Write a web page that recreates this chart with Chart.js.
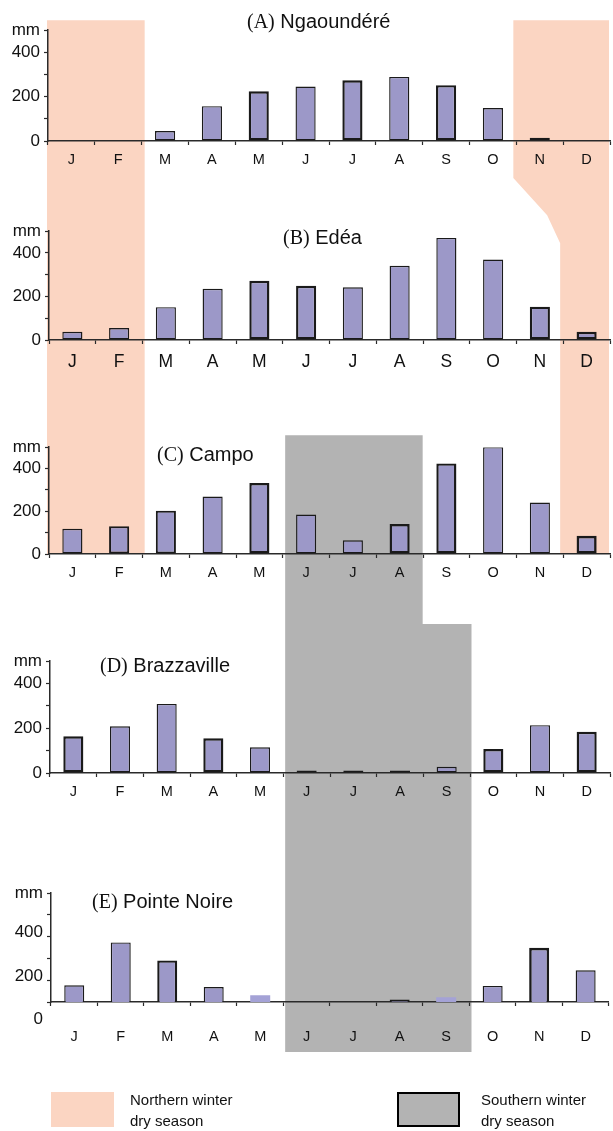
<!DOCTYPE html>
<html>
<head>
<meta charset="utf-8">
<title>Monthly rainfall and dry seasons</title>
<script src="https://cdn.jsdelivr.net/npm/chart.js@4.4.0/dist/chart.umd.min.js"></script>
<style>
  html, body { margin: 0; padding: 0; background: #fff; }
  #page { position: relative; width: 613px; height: 1131px; overflow: hidden;
          font-family: "Liberation Sans", Arial, sans-serif; color: #111; }
  #shade { position: absolute; left: 0; top: 0; }
  .panel { position: absolute; left: 0; width: 613px; }
  .panel canvas { display: block; }
  .title { position: absolute; font-size: 20px; line-height: 20px; white-space: nowrap; color: #111; }
  .title .tag { font-family: "Liberation Serif", "Times New Roman", serif; }
  .swatch { position: absolute; width: 63px; height: 35px; box-sizing: border-box; }
  .swatch.north { background-color: #fbd5c2; }
  .swatch.south { background-color: #b3b3b3; border: 2px solid #000; }
  .legend-text { position: absolute; font-size: 15px; line-height: 21px; color: #111; white-space: nowrap; }
</style>
</head>
<body>
<div id="page">
  <canvas id="shade" width="613" height="1131"></canvas>
  <div class="panel" id="pA"><canvas></canvas></div>
  <div class="panel" id="pB"><canvas></canvas></div>
  <div class="panel" id="pC"><canvas></canvas></div>
  <div class="panel" id="pD"><canvas></canvas></div>
  <div class="panel" id="pE"><canvas></canvas></div>
  <div id="titles"></div>

  <div class="swatch north" style="left:51px;top:1092px;"></div>
  <div class="legend-text" style="left:130px;top:1089px;">Northern winter<br>dry season</div>
  <div class="swatch south" style="left:397px;top:1092px;"></div>
  <div class="legend-text" style="left:481px;top:1089px;">Southern winter<br>dry season</div>
</div>

<script>
// Monthly rainfall (mm) at five stations
const months = ['J', 'F', 'M', 'A', 'M', 'J', 'J', 'A', 'S', 'O', 'N', 'D'];
const ngaoundere  = [0, 0, 45, 157, 224, 246, 274, 289, 252, 149, 15, 0];
const edea        = [38, 55, 151, 235, 272, 249, 242, 341, 469, 370, 153, 38];
const campo       = [118, 130, 202, 269, 332, 185, 64, 140, 424, 500, 241, 85];
const brazzaville = [164, 209, 309, 155, 115, 11, 11, 11, 28, 107, 214, 184];
const pointeNoire = [157, 354, 271, 149, 111, 80, 80, 91, 102, 154, 329, 226];

// Value axis ticks
const yTicks = [0, 100, 200, 300, 400, 500];
const yTickLabels = { 0: '0', 200: '200', 400: '400', 500: 'mm' };
// Pointe Noire panel: its axis floor sits at 80 mm
const pnFloor = 80;
const pnCeil = 580;
const pnMarks = [80, 180, 280, 380, 480, 580];
const pnTickLabels = { 200: '200', 400: '400', 580: 'mm' };
const pnZeroLabel = '0';

const stationTags  = ['(A)', '(B)', '(C)', '(D)', '(E)'];
const stationNames = ['Ngaoundéré', 'Edéa', 'Campo', 'Brazzaville', 'Pointe Noire'];

const FONT = '"Liberation Sans", Arial, sans-serif';
const AXIS = '#2a2a2a';
const BAR = '#9c98c8';
const BAR_LIGHT = '#a4a2d6';
const EDGE = '#1a1a1a';
const PAD_TOP = 14;
const N = 1.4, T = 2.4;

const panels = [
  { id: 'A', data: ngaoundere, axisTop: 30, zero: 141, yW: 48, pad: 6, xFont: 14.5, xH: 44,
    titleX: 247, titleBase: 28, bw: [N, N, N, N, T, N, T, N, T, N, N, N] },
  { id: 'B', data: edea, axisTop: 231, zero: 340, yW: 49, pad: 8, xFont: 17.5, xH: 44,
    titleX: 283, titleBase: 244, bw: [N, N, N, N, T, T, N, N, N, N, T, T] },
  { id: 'C', data: campo, axisTop: 447, zero: 554, yW: 49, pad: 6, xFont: 14.5, xH: 44,
    titleX: 157, titleBase: 461, bw: [N, 2, 2, N, T, N, N, T, T, N, N, 2.6] },
  { id: 'D', data: brazzaville, axisTop: 661, zero: 773, yW: 50, pad: 6, xFont: 14.5, xH: 44,
    titleX: 100, titleBase: 672, bw: [T, N, N, T, N, 3, 3, 3, N, T, N, T] },
  { id: 'E', data: pointeNoire, axisTop: 893, zero: 1002, yW: 51, pad: 22, xFont: 14.5, xH: 60,
    titleX: 92, titleBase: 908, bw: [N, N, T, N, 0, N, N, 2, 0, N, 2.6, N],
    floor: true }
];

// Draws the "0" label of a panel whose axis floor is above zero
const zeroLabelPlugin = {
  id: 'zeroLabel',
  afterDraw(chart, args, opts) {
    const ys = chart.scales.y;
    const ctx = chart.ctx;
    ctx.save();
    ctx.font = '17px ' + FONT;
    ctx.fillStyle = '#111';
    ctx.textAlign = 'right';
    ctx.textBaseline = 'middle';
    ctx.fillText(opts.text, ys.right - 4 - 4, ys.getPixelForValue(opts.value));
    ctx.restore();
  }
};

function buildChart(p) {
  const wrap = document.getElementById('p' + p.id);
  const cv = wrap.querySelector('canvas');
  const height = p.zero - p.axisTop + PAD_TOP + p.xH;
  wrap.style.top = (p.axisTop - PAD_TOP) + 'px';
  cv.width = 613; cv.height = height;
  cv.style.width = '613px'; cv.style.height = height + 'px';

  const floor = !!p.floor;
  const tickVals = floor ? [...new Set([...pnMarks, 200, 400])].sort((a, b) => a - b) : yTicks;
  const labels = floor ? pnTickLabels : yTickLabels;

  const bg = floor ? p.data.map((_, i) => (i === 4 || i === 8) ? BAR_LIGHT : BAR) : BAR;

  return new Chart(cv, {
    type: 'bar',
    data: {
      labels: months,
      datasets: [{
        data: p.data,
        backgroundColor: bg,
        borderColor: EDGE,
        borderWidth: p.bw,
        borderSkipped: false,
        barPercentage: 0.43,
        categoryPercentage: 1
      }]
    },
    options: {
      responsive: false,
      animation: false,
      events: [],
      layout: { padding: { top: PAD_TOP, right: 3, bottom: 0, left: 0 } },
      plugins: {
        legend: { display: false },
        tooltip: { enabled: false },
        zeroLabel: { value: 0, text: pnZeroLabel }
      },
      scales: {
        x: {
          offset: true,
          afterFit: s => { s.height = p.xH; },
          border: { display: true, color: AXIS, width: 1.5 },
          grid: { offset: true, drawOnChartArea: false, drawTicks: true, tickLength: 4, color: AXIS, tickWidth: 1.2 },
          ticks: { padding: p.pad, color: '#111', autoSkip: false, maxRotation: 0,
                   font: { family: FONT, size: p.xFont } }
        },
        y: {
          min: floor ? pnFloor : 0,
          max: floor ? pnCeil : 500,
          afterBuildTicks: s => { s.ticks = tickVals.map(v => ({ value: v })); },
          afterFit: s => { s.width = p.yW; },
          border: { display: true, color: AXIS, width: 1.5 },
          grid: {
            drawOnChartArea: false, drawTicks: true, tickLength: 4, tickWidth: 1.2,
            color: AXIS,
            tickColor: ctx => (floor && ctx.tick && !pnMarks.includes(ctx.tick.value)) ? 'rgba(0,0,0,0)' : AXIS
          },
          ticks: {
            autoSkip: false, padding: 4, color: '#111',
            font: { family: FONT, size: 17 },
            callback: v => (labels[v] !== undefined ? labels[v] : '')
          }
        }
      }
    },
    plugins: floor ? [zeroLabelPlugin] : []
  });
}

const charts = panels.map(buildChart);

// Station titles
const titleBox = document.getElementById('titles');
panels.forEach((p, i) => {
  const d = document.createElement('div');
  d.className = 'title';
  d.style.left = p.titleX + 'px';
  d.style.top = (p.titleBase - 17) + 'px';
  const tag = document.createElement('span');
  tag.className = 'tag';
  tag.textContent = stationTags[i];
  d.appendChild(tag);
  d.appendChild(document.createTextNode(' ' + stationNames[i]));
  titleBox.appendChild(d);
});

// Dry-season bands behind the panels, placed from the month scale
(function drawShading() {
  const [A, B, C, D, E] = charts;
  const pageY = (ch, v) => ch.canvas.parentNode.offsetTop + ch.scales.y.getPixelForValue(v);
  const xs = A.scales.x;
  const w = xs.getPixelForValue(1) - xs.getPixelForValue(0);
  const b = i => xs.getPixelForValue(i) - w / 2;

  const aTop = pageY(A, 500), aZero = pageY(A, 0);
  const bTop = pageY(B, 500);
  const cTop = pageY(C, 500), cZero = pageY(C, 0);
  const eBase = pageY(E, pnFloor);

  const ctx = document.getElementById('shade').getContext('2d');
  const poly = (pts, color) => {
    ctx.beginPath();
    pts.forEach(([x, y], k) => k ? ctx.lineTo(x, y) : ctx.moveTo(x, y));
    ctx.closePath();
    ctx.fillStyle = color;
    ctx.fill();
  };

  const salmon = '#fbd5c2';
  const top = aTop - 10;
  poly([[b(0) - 1, top], [b(2) + 3, top], [b(2) + 3, cZero], [b(0) - 1, cZero]], salmon);
  poly([[b(10) - 3, top], [b(12) - 1, top], [b(12) - 1, cZero], [b(11) - 3, cZero],
        [b(11) - 3, bTop + 12], [b(11) - 16, bTop - 16], [b(10) - 3, aZero + 37]], salmon);

  const gray = '#b3b3b3';
  poly([[b(5) + 3, cTop - 12], [b(8), cTop - 12], [b(8), cZero + 70], [b(9) + 2, cZero + 70],
        [b(9) + 2, eBase + 50], [b(5) + 3, eBase + 50]], gray);
})();
</script>
</body>
</html>
